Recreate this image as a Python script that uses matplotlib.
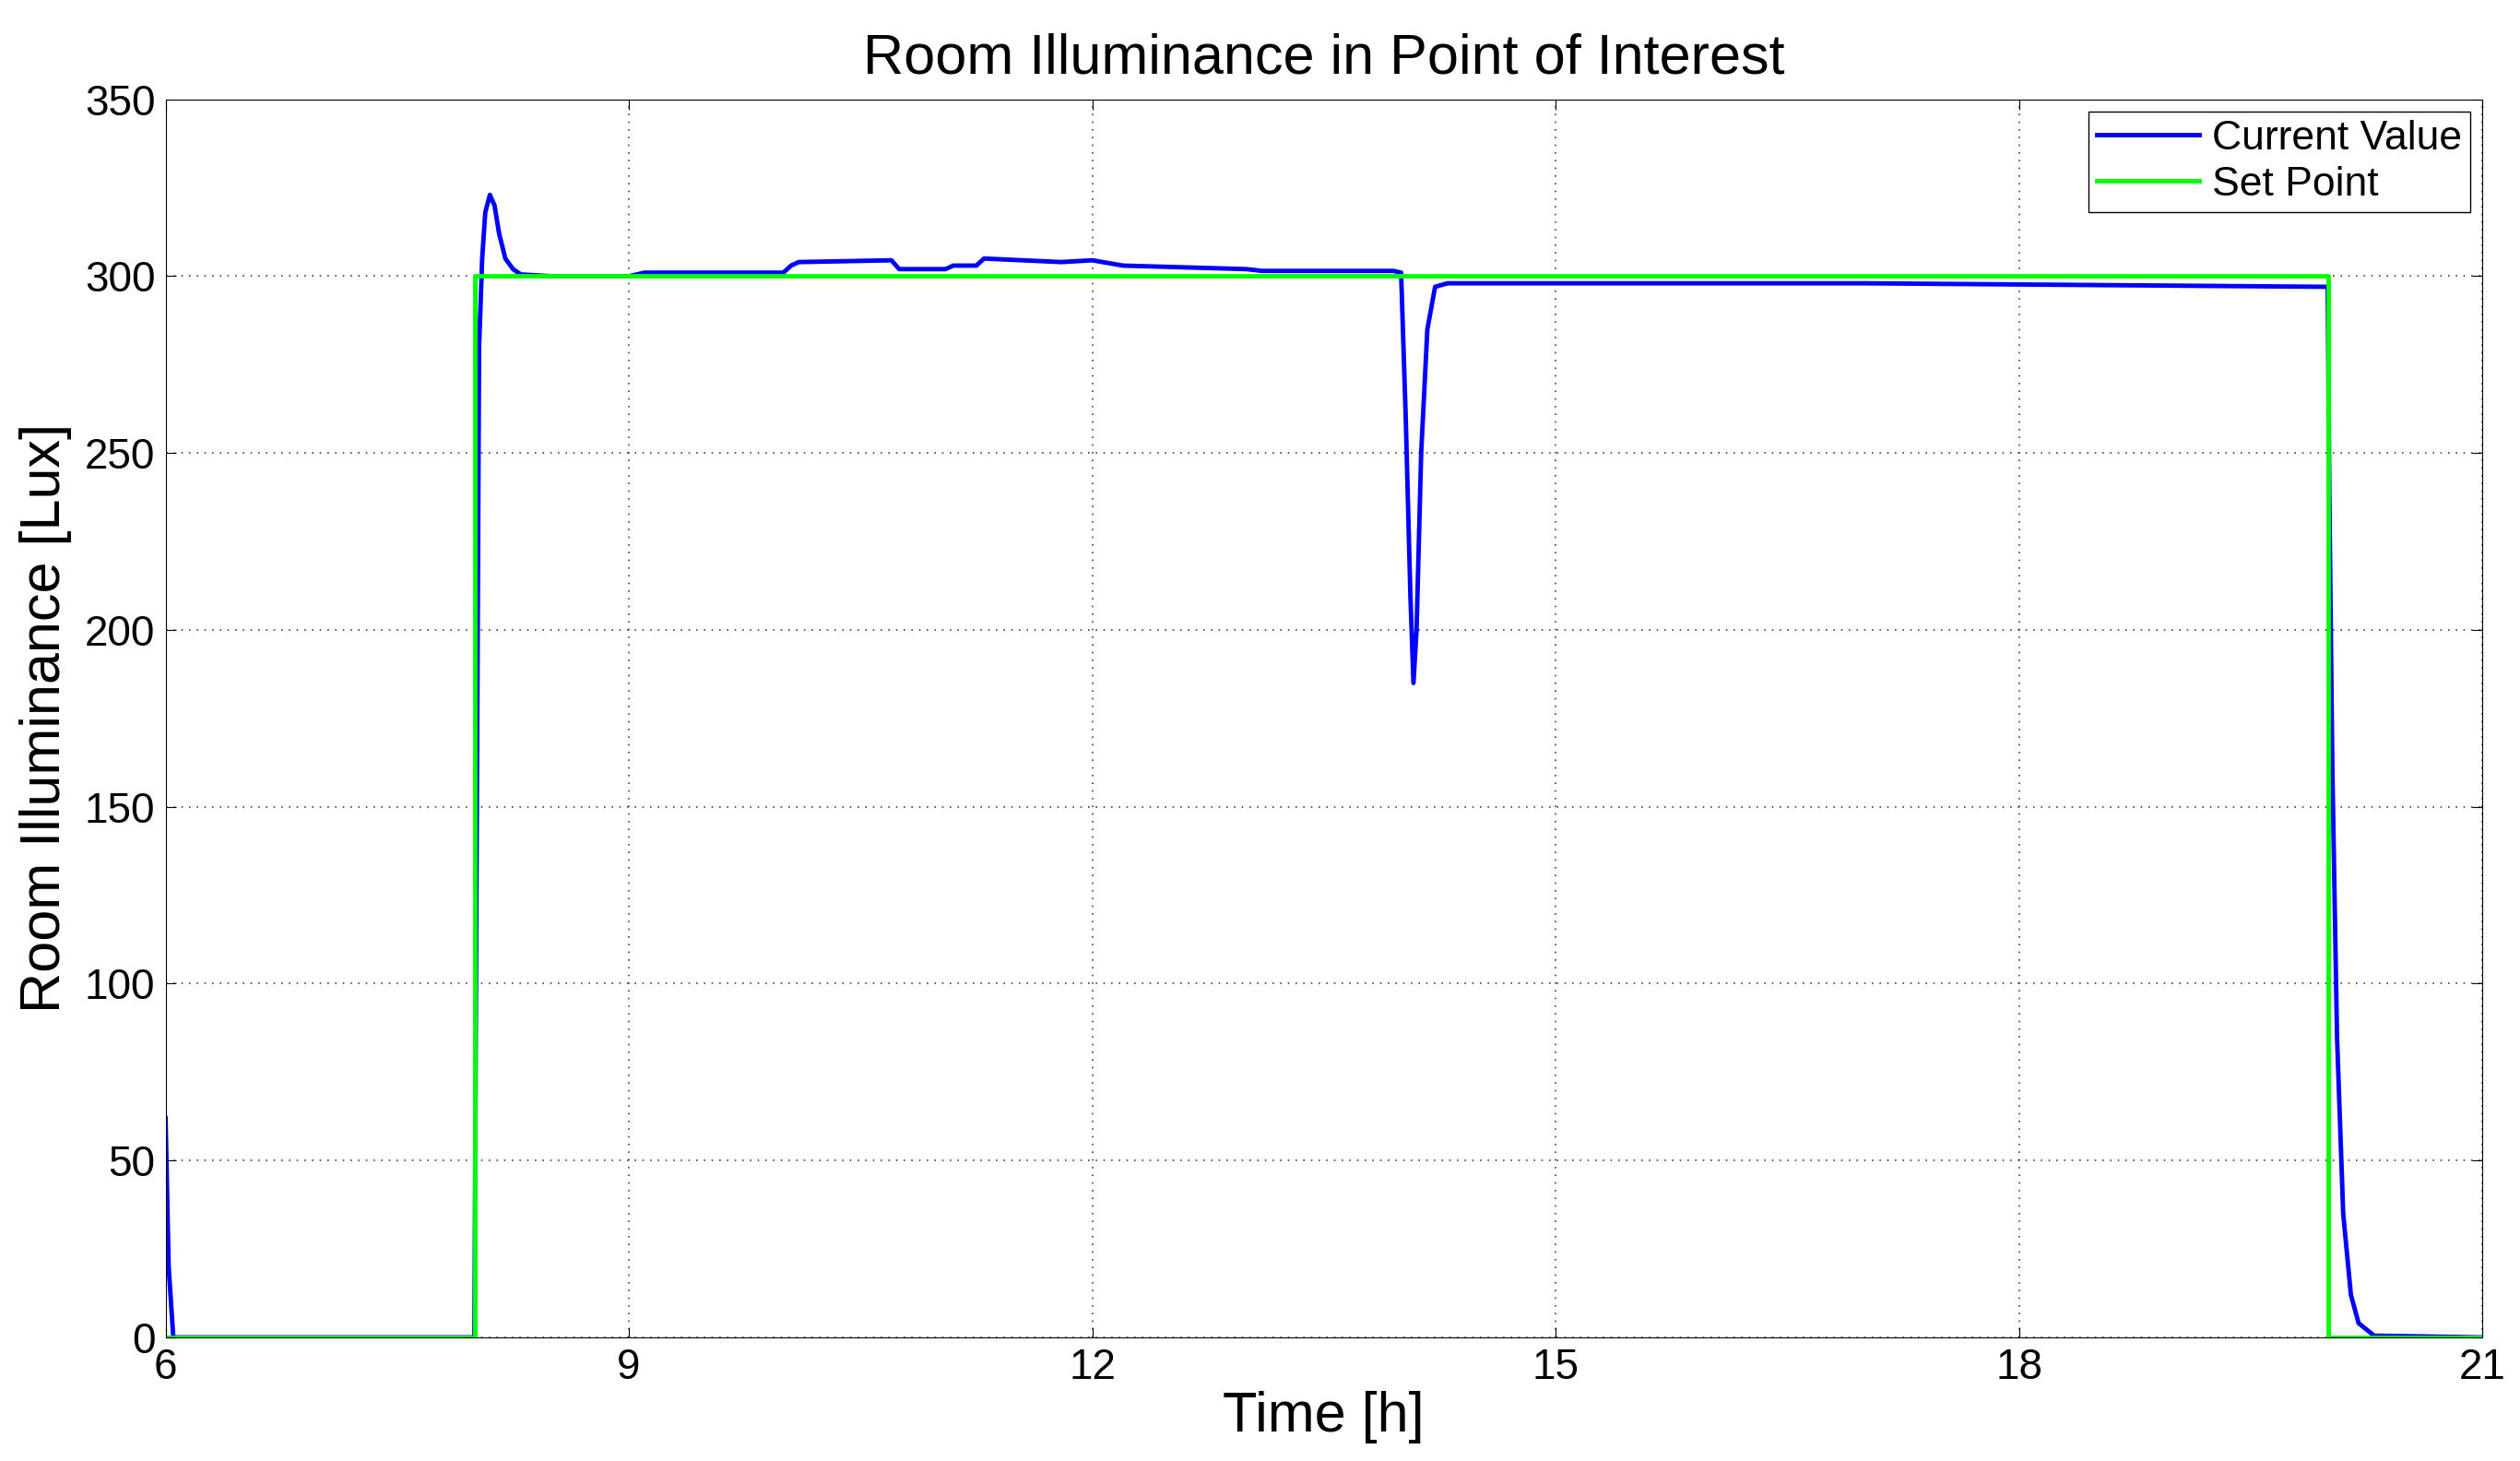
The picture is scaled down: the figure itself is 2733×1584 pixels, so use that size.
import matplotlib
matplotlib.use("Agg")
import matplotlib.pyplot as plt

plt.rcParams['font.family'] = ['Liberation Sans', 'DejaVu Sans']

# Current value
t_cur = [6.0, 6.02, 6.05, 8.0, 8.01, 8.03, 8.05, 8.07, 8.1, 8.13, 8.16, 8.2, 8.25, 8.3, 8.5, 9.0,
         9.1, 10.0, 10.05, 10.1, 10.7, 10.75, 10.8, 11.05, 11.1, 11.25, 11.3, 11.8, 12.0, 12.2,
         13.0, 13.1, 13.95, 14.0, 14.03, 14.06, 14.08, 14.1, 14.13, 14.17, 14.22, 14.3, 17.0,
         20.0, 20.01, 20.03, 20.06, 20.1, 20.15, 20.2, 20.3, 21.0]
v_cur = [62, 20, 0, 0, 100, 280, 305, 318, 323, 320, 312, 305, 302, 300.5, 300, 300,
         301, 301, 303, 304, 304.5, 302, 302, 302, 303, 303, 305, 304, 304.5, 303,
         302, 301.5, 301.5, 301, 260, 210, 185, 200, 250, 285, 297, 298, 298,
         297, 240, 160, 85, 35, 12, 4, 0.5, 0]

# Set point
t_set = [6, 8, 8, 20, 20, 21]
v_set = [0, 0, 300, 300, 0, 0]

fig = plt.figure(figsize=(27.33, 15.84), dpi=100)
ax = fig.add_axes([0.0657, 0.0846, 0.9193, 0.8474])
ax.plot(t_cur, v_cur, color='#0000ff', lw=3.5, label='Current Value')
ax.plot(t_set, v_set, color='#00ff00', lw=3.5, label='Set Point')
ax.set_xlim(6, 21)
ax.set_ylim(0, 350)
ax.set_xticks([6, 9, 12, 15, 18, 21])
ax.set_yticks(range(0, 351, 50))
ax.grid(True, color='#444444', linestyle=(0, (1, 4)), linewidth=1.2)
ax.tick_params(labelsize=33, direction='in', length=8, top=True, right=True, pad=8)
ax.set_title('Room Illuminance in Point of Interest', fontsize=44, pad=20)
ax.set_xlabel('Time [h]', fontsize=44, labelpad=2)
ax.set_ylabel('Room Illuminance [Lux]', fontsize=44, labelpad=10)
ax.legend(loc='upper right', fontsize=32, fancybox=False, edgecolor='black',
          framealpha=1, borderaxespad=0.3, handlelength=2.5, handletextpad=0.3,
          borderpad=0.2, labelspacing=0.2)
fig.savefig('out.png', dpi=100)
